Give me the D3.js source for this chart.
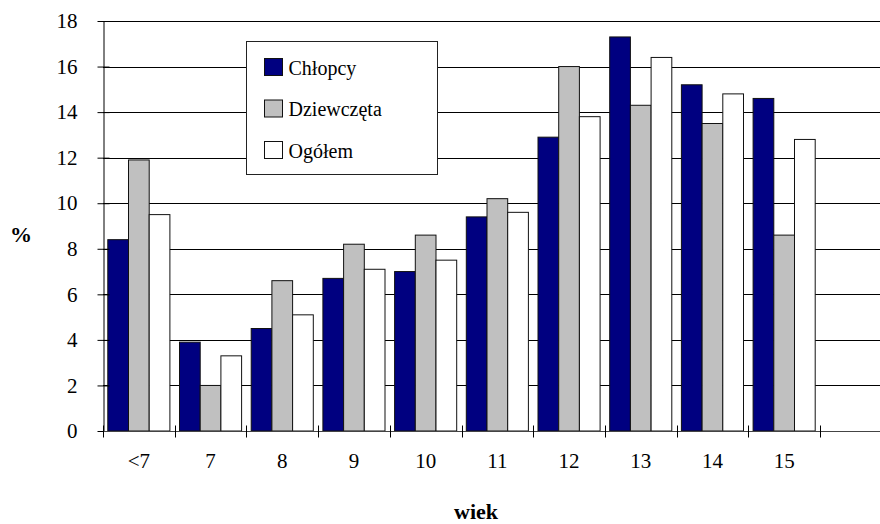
<!DOCTYPE html>
<html>
<head>
<meta charset="utf-8">
<script src="https://cdn.jsdelivr.net/npm/d3@7"></script>
<style>
  body { margin: 0; background: #fff; }
  text { font-family: "Liberation Serif", "Times New Roman", Times, "DejaVu Serif", serif; }
</style>
</head>
<body>
<div class="chart"></div>
<script>
// data
var categories = ["<7", "7", "8", "9", "10", "11", "12", "13", "14", "15"];
var series = ["Chłopcy", "Dziewczęta", "Ogółem"];
var chlopcy    = [8.4, 3.9, 4.5, 6.7, 7.0, 9.4, 12.9, 17.3, 15.2, 14.6];
var dziewczeta = [11.9, 2.0, 6.6, 8.2, 8.6, 10.2, 16.0, 14.3, 13.5, 8.6];
var ogolem     = [9.5, 3.3, 5.1, 7.1, 7.5, 9.6, 13.8, 16.4, 14.8, 12.8];
var yTicks = [0, 2, 4, 6, 8, 10, 12, 14, 16, 18];
var colors = ["#000080", "#c0c0c0", "#ffffff"];

var svgWidth = 880;
var svgHeight = 524;
var serif = "'Liberation Serif', 'Times New Roman', Times, 'DejaVu Serif', serif";

var margin = { top: 21, left: 103 };
var step = 71.7;
var plotBottom = 431;
var plotRight = margin.left + step * (categories.length + 1);

var svg = d3.select(".chart")
  .append("svg")
  .attr("width", svgWidth)
  .attr("height", svgHeight)
  .attr("font-family", serif);

var rows = categories.map(function(c, i) {
  return { cat: c, values: [chlopcy[i], dziewczeta[i], ogolem[i]] };
});

// scales
var x = d3.scaleBand()
  .domain(categories)
  .range([margin.left, margin.left + step * categories.length]);

var x1 = d3.scaleBand()
  .domain(series)
  .range([0, x.bandwidth()])
  .paddingOuter(0.232);

var y = d3.scaleLinear()
  .domain([0, 18])
  .range([plotBottom, margin.top]);

// gridlines
svg.append("g")
  .selectAll("line")
  .data(yTicks.filter(function(t) { return t > 0; }))
  .enter()
  .append("line")
  .attr("x1", margin.left)
  .attr("x2", plotRight)
  .attr("y1", d => Math.round(y(d)) + 0.5)
  .attr("y2", d => Math.round(y(d)) + 0.5)
  .attr("stroke", "#000");

// bars
var groups = svg.append("g")
  .selectAll("g")
  .data(rows)
  .enter()
  .append("g")
  .attr("transform", d => `translate(${x(d.cat)},0)`);

groups.selectAll("rect")
  .data(d => d.values.map(function(v, i) { return { s: series[i], v: v, i: i }; }))
  .enter()
  .append("rect")
  .attr("x", d => x1(d.s))
  .attr("y", d => y(d.v))
  .attr("width", x1.bandwidth())
  .attr("height", d => plotBottom - y(d.v))
  .attr("fill", d => colors[d.i])
  .attr("stroke", "#111")
  .attr("stroke-width", 1);

// axes
var yAxis = d3.axisLeft(y)
  .tickValues(yTicks)
  .tickSize(0)
  .tickPadding(26);

var yG = svg.append("g")
  .attr("transform", `translate(${margin.left + 0.5},0)`)
  .call(yAxis)
  .attr("font-family", serif)
  .attr("font-size", 21);
yG.select(".domain").attr("stroke", "#000");
yG.selectAll("text")
  .attr("fill", "#000");
yG.selectAll(".tick")
  .append("line")
  .attr("x1", -6)
  .attr("x2", 6)
  .attr("stroke", "#000");

var xG = svg.append("g")
  .attr("transform", `translate(0,${plotBottom + 0.5})`);
xG.append("line")
  .attr("x1", margin.left)
  .attr("x2", plotRight)
  .attr("stroke", "#444");
var tickPos = categories.map(c => x(c)).concat([x.range()[1], plotRight]);
xG.selectAll(".xtick")
  .data(tickPos)
  .enter()
  .append("line")
  .attr("class", "xtick")
  .attr("x1", d => Math.round(d) + 0.5)
  .attr("x2", d => Math.round(d) + 0.5)
  .attr("y1", -6)
  .attr("y2", 6)
  .attr("stroke", "#000");
xG.selectAll(".xlabel")
  .data(categories)
  .enter()
  .append("text")
  .attr("class", "xlabel")
  .attr("x", d => x(d) + x.bandwidth() / 2)
  .attr("y", 36)
  .attr("text-anchor", "middle")
  .attr("font-size", 21)
  .text(d => d);

// axis titles
svg.append("text")
  .attr("x", 21)
  .attr("y", 242)
  .attr("text-anchor", "middle")
  .attr("font-size", 22)
  .attr("font-weight", "bold")
  .text("%");

svg.append("text")
  .attr("x", 476)
  .attr("y", 519)
  .attr("text-anchor", "middle")
  .attr("font-size", 22)
  .attr("font-weight", "bold")
  .text("wiek");

// legend
var legend = svg.append("g")
  .attr("transform", "translate(246.5,41.5)");
legend.append("rect")
  .attr("width", 191)
  .attr("height", 133)
  .attr("fill", "#fff")
  .attr("stroke", "#222");

var items = legend.selectAll(".item")
  .data(series)
  .enter()
  .append("g")
  .attr("class", "item")
  .attr("transform", (d, i) => `translate(18,${17 + i * 41.5})`);
items.append("rect")
  .attr("width", 18)
  .attr("height", 17)
  .attr("fill", (d, i) => colors[i])
  .attr("stroke", "#111");
items.append("text")
  .attr("x", 24)
  .attr("y", 16)
  .attr("font-size", 20)
  .text(d => d);
</script>
</body>
</html>
